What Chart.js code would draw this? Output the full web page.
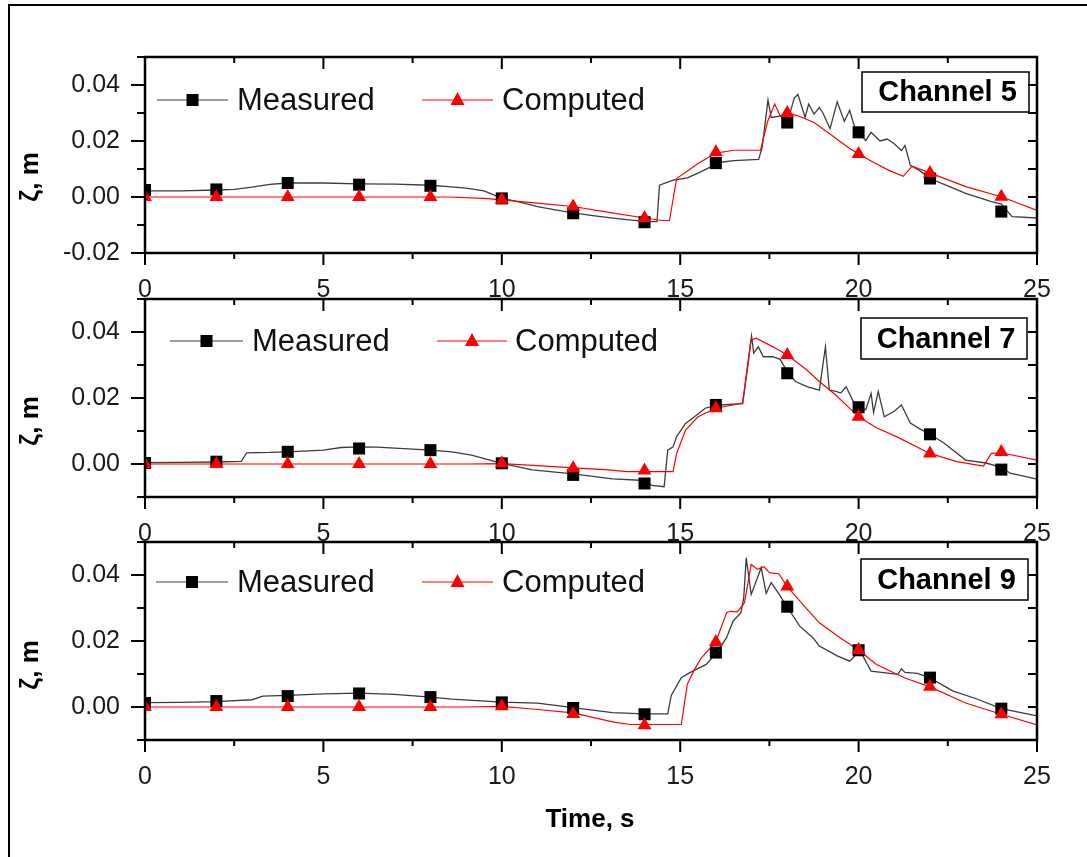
<!DOCTYPE html>
<html>
<head>
<meta charset="utf-8">
<script src="https://cdn.jsdelivr.net/npm/chart.js@4"></script>
<style>
  body { margin: 0; background: #fff; }
  #wrap { position: relative; width: 1087px; height: 857px; overflow: hidden; background: #fff; }
  #frame { position: absolute; left: 8px; top: 4px; width: 1300px; height: 1000px; border-left: 2px solid #000; border-top: 2px solid #000; }
  canvas { position: absolute; left: 0; top: 0; }
</style>
</head>
<body>
<div id="wrap">
  <div id="frame"></div>
  <canvas id="c5" width="1087" height="857"></canvas>
  <canvas id="c7" width="1087" height="857"></canvas>
  <canvas id="c9" width="1087" height="857"></canvas>
</div>
<script>
// marker times (s), same for every series
const markTimes = [0, 2, 4, 6, 8, 10, 12, 14, 16, 18, 20, 22, 24];

// Channel 5 -- [time s, elevation m]
const ch5Measured = [
  [0, 0.0022], [1, 0.0022], [2, 0.0025], [2.5, 0.0027], [3, 0.0035], [3.5, 0.0045], [4, 0.005],
  [5, 0.005], [6, 0.0047], [7, 0.0046], [8, 0.0042], [8.5, 0.0037], [9, 0.0032], [9.5, 0.0022],
  [10, -0.0004], [10.5, -0.0018], [11, -0.0034], [11.5, -0.0046], [12, -0.0057], [12.5, -0.0066],
  [13, -0.0074], [13.5, -0.0081], [14, -0.0087], [14.35, -0.0088], [14.42, 0.0042], [14.8, 0.006],
  [15.2, 0.0068], [15.5, 0.0085], [15.9, 0.011], [16.2, 0.0125], [16.5, 0.013], [17.2, 0.0134],
  [17.3, 0.018], [17.46, 0.0346], [17.55, 0.0284], [17.85, 0.029], [18.05, 0.0288], [18.2, 0.0354],
  [18.3, 0.0366], [18.5, 0.0284], [18.6, 0.0332], [18.75, 0.0296], [18.9, 0.032], [19.0, 0.030],
  [19.2, 0.0244], [19.4, 0.034], [19.6, 0.027], [19.75, 0.031], [19.9, 0.0245], [20.05, 0.0225],
  [20.2, 0.0201], [20.35, 0.0231], [20.6, 0.020], [20.8, 0.0207], [21.0, 0.019], [21.2, 0.0166],
  [21.3, 0.0184], [21.45, 0.0113], [21.7, 0.0095], [22.0, 0.0066], [22.5, 0.004], [23.0, 0.0013],
  [23.7, -0.0016], [24.0, -0.0025], [24.3, -0.007], [25, -0.0075]
];
const ch5Computed = [
  [0, 0], [8.5, 0], [9.5, -0.0005], [10, -0.001], [11, -0.0022], [12, -0.0034], [13, -0.0055],
  [14, -0.0075], [14.5, -0.0084], [14.7, -0.0084], [14.9, 0.0066], [15.5, 0.012], [16, 0.0157],
  [16.5, 0.0167], [17.25, 0.0167], [17.45, 0.027], [17.65, 0.0332], [17.8, 0.029], [18, 0.030],
  [18.3, 0.029], [18.75, 0.0266], [19.2, 0.0225], [19.7, 0.0178], [20, 0.0154], [20.4, 0.0125],
  [20.85, 0.0095], [21.25, 0.0074], [21.5, 0.011], [22, 0.0086], [23, 0.0037], [24, 0.0001], [25, -0.0048]
];
const ch5MeasuredMarks = [0.0025, 0.0027, 0.005, 0.0044, 0.004, -0.0005, -0.0058, -0.009, 0.0121, 0.0266, 0.0231, 0.0066, -0.0052];
const ch5ComputedMarks = [0, 0, 0, 0, 0, -0.001, -0.0034, -0.0075, 0.016, 0.030, 0.0154, 0.0086, 0.0001];

// Channel 7
const ch7Measured = [
  [0, 0.0004], [1, 0.0005], [2, 0.0006], [2.7, 0.0008], [2.85, 0.0034], [3.5, 0.0035], [4, 0.0037],
  [5, 0.0042], [5.5, 0.005], [6, 0.0052], [6.5, 0.0051], [7, 0.0048], [8, 0.0042], [8.6, 0.0037],
  [9.15, 0.0027], [10, 0.0002], [10.85, -0.0018], [12, -0.003], [13.1, -0.0045], [14, -0.005],
  [14.2, -0.0065], [14.55, -0.0069], [14.65, 0.0042], [14.8, 0.0052], [14.9, 0.0083], [15.15, 0.0123],
  [15.4, 0.0143], [15.7, 0.0169], [16, 0.0178], [16.75, 0.0183], [16.9, 0.030], [17.0, 0.0388],
  [17.06, 0.0336], [17.19, 0.0355], [17.33, 0.0325], [17.6, 0.0325], [17.8, 0.0317], [18.0, 0.028],
  [18.23, 0.025], [18.57, 0.0234], [18.9, 0.0224], [19.07, 0.0355], [19.18, 0.0224], [19.37, 0.022],
  [19.5, 0.0215], [19.65, 0.0234], [19.85, 0.019], [20.0, 0.0175], [20.2, 0.0164], [20.35, 0.0214],
  [20.42, 0.0156], [20.55, 0.022], [20.72, 0.0143], [21.0, 0.016], [21.2, 0.0179], [21.45, 0.0124],
  [21.74, 0.0105], [22, 0.009], [22.4, 0.0063], [23.0, 0.0012], [23.57, 0.0003], [24.0, -0.001],
  [24.25, -0.0028], [25, -0.0046]
];
const ch7Computed = [
  [0, 0], [9, 0], [10, 0.0001], [11, -0.0005], [12, -0.0012], [13, -0.0018], [13.5, -0.0023],
  [14.8, -0.0023], [14.9, 0.0032], [15.15, 0.0103], [15.5, 0.0143], [16, 0.0169], [16.3, 0.0175],
  [16.75, 0.0185], [16.98, 0.0376], [17.13, 0.0381], [17.6, 0.0355], [18, 0.033], [18.55, 0.0285],
  [18.9, 0.025], [19.35, 0.021], [20, 0.0143], [20.5, 0.011], [21.06, 0.0083], [22, 0.0032],
  [22.75, 0.0007], [23.5, -0.0006], [23.72, 0.0032], [24, 0.0034], [25, 0.0012]
];
const ch7MeasuredMarks = [0.0003, 0.0007, 0.0037, 0.0047, 0.0042, 0.0002, -0.0033, -0.0059, 0.0179, 0.0275, 0.0172, 0.009, -0.0017];
const ch7ComputedMarks = [0, 0, 0, 0, 0, 0.0002, -0.0013, -0.002, 0.0169, 0.033, 0.0143, 0.0032, 0.0036];

// Channel 9
const ch9Measured = [
  [0, 0.0013], [1, 0.0014], [2, 0.0016], [3, 0.0022], [3.3, 0.0033], [4, 0.0035], [5, 0.004],
  [6, 0.0042], [7, 0.0038], [8, 0.003], [8.6, 0.0024], [10, 0.0015], [11, 0.0012], [12, -0.0002],
  [13.1, -0.0017], [14, -0.0021], [14.65, -0.0021], [14.75, 0.0035], [15.03, 0.0089], [15.27, 0.0104],
  [15.73, 0.0129], [16, 0.0162], [16.3, 0.021], [16.48, 0.026], [16.7, 0.0286], [16.78, 0.033],
  [16.85, 0.0452], [16.99, 0.0341], [17.27, 0.0422], [17.41, 0.0344], [17.55, 0.0377], [17.77, 0.0342],
  [18, 0.0303], [18.35, 0.0245], [18.72, 0.021], [18.9, 0.0185], [19.4, 0.0155], [19.75, 0.0139],
  [19.9, 0.0155], [20.05, 0.0168], [20.35, 0.0109], [20.7, 0.0104], [21.1, 0.0099], [21.2, 0.0116],
  [21.3, 0.0105], [21.65, 0.0102], [22, 0.0088], [22.65, 0.0048], [23.3, 0.0025], [24, -0.0005],
  [25, -0.0027]
];
const ch9Computed = [
  [0, 0], [9, 0], [10, 0.0002], [10.85, -0.0006], [12, -0.0018], [13.1, -0.0045], [13.6, -0.0053],
  [15.03, -0.0053], [15.2, 0.0069], [15.4, 0.0114], [15.6, 0.015], [16, 0.0197], [16.3, 0.0286],
  [16.4, 0.029], [16.6, 0.0288], [16.8, 0.0315], [16.99, 0.0432], [17.17, 0.0417], [17.35, 0.0425],
  [17.5, 0.0407], [17.77, 0.0403], [18, 0.0365], [18.56, 0.0296], [18.9, 0.0255], [19.48, 0.021],
  [20, 0.0173], [20.5, 0.0129], [21.3, 0.0088], [22, 0.0061], [23, 0.0012], [24, -0.0022], [25, -0.0054]
];
const ch9MeasuredMarks = [0.0012, 0.0018, 0.0033, 0.0041, 0.003, 0.0014, -0.0003, -0.0022, 0.0165, 0.0304, 0.0172, 0.0089, -0.0005];
const ch9ComputedMarks = [0, 0, 0, 0, 0, 0.0002, -0.0021, -0.0055, 0.0197, 0.0365, 0.0173, 0.0061, -0.0022];

const seriesNames = ['Measured', 'Computed'];
const yAxisTitle = 'ζ, m';
const xAxisTitle = 'Time, s';

const FONT = "'Liberation Sans', Arial, sans-serif";
const BLACK_LINE = '#3c3c3c';
const RED = '#ff0000';

// layout of each panel (pixels)
const panels = [
  { id: 'c5', label: 'Channel 5', yMin: -0.02, top: 57, bottom: 253,
    meas: ch5Measured, comp: ch5Computed, measMk: ch5MeasuredMarks, compMk: ch5ComputedMarks,
    legY: 100, measLeg: [157, 228, 237], compLeg: [422, 493, 502], box: [862, 72, 167, 40], titleY: 177 },
  { id: 'c7', label: 'Channel 7', yMin: -0.01, top: 299, bottom: 497,
    meas: ch7Measured, comp: ch7Computed, measMk: ch7MeasuredMarks, compMk: ch7ComputedMarks,
    legY: 341, measLeg: [170, 243, 252], compLeg: [437, 507, 515], box: [861, 318, 166, 41], titleY: 421 },
  { id: 'c9', label: 'Channel 9', yMin: -0.01, top: 542, bottom: 740,
    meas: ch9Measured, comp: ch9Computed, measMk: ch9MeasuredMarks, compMk: ch9ComputedMarks,
    legY: 582, measLeg: [156, 228, 237], compLeg: [422, 493, 502], box: [861, 559, 167, 41], titleY: 665, xTitle: true }
];

const toXY = pairs => pairs.map(p => ({ x: p[0], y: p[1] }));
const marks = vals => vals.map((v, i) => ({ x: markTimes[i], y: v }));

function drawSquare(ctx, x, y) {
  ctx.fillStyle = '#000';
  ctx.fillRect(x - 6, y - 6, 12, 12);
}
function drawTriangle(ctx, x, y) {
  ctx.fillStyle = RED;
  ctx.beginPath();
  ctx.moveTo(x, y - 8);
  ctx.lineTo(x + 7, y + 5);
  ctx.lineTo(x - 7, y + 5);
  ctx.closePath();
  ctx.fill();
}

function makeDecor(p) {
  return {
    id: 'decor',
    afterDraw(chart) {
      const { ctx, chartArea: a, scales: { x, y } } = chart;
      ctx.save();
      ctx.strokeStyle = '#000';
      // frame
      ctx.lineWidth = 2.5;
      ctx.strokeRect(a.left, a.top, a.right - a.left, a.bottom - a.top);
      // ticks
      ctx.lineWidth = 2;
      ctx.beginPath();
      x.ticks.forEach(t => {
        const px = x.getPixelForValue(t.value);
        const len = Math.abs(t.value % 5) < 1e-6 ? 12 : 6;
        ctx.moveTo(px, a.bottom); ctx.lineTo(px, a.bottom + len);
        ctx.moveTo(px, a.top); ctx.lineTo(px, a.top + len);
      });
      y.ticks.forEach(t => {
        const py = y.getPixelForValue(t.value);
        const major = Math.round(t.value * 100) % 2 === 0;
        ctx.moveTo(a.left - (major ? 14 : 8), py); ctx.lineTo(a.left, py);
        ctx.moveTo(a.right - 9, py); ctx.lineTo(a.right, py);
      });
      ctx.stroke();

      // legend
      ctx.lineWidth = 1.2;
      ctx.font = '31px ' + FONT;
      ctx.textBaseline = 'middle';
      ctx.textAlign = 'left';
      [[p.measLeg, BLACK_LINE, drawSquare, seriesNames[0]], [p.compLeg, RED, drawTriangle, seriesNames[1]]].forEach(([lg, col, mk, name]) => {
        ctx.strokeStyle = col;
        ctx.beginPath();
        ctx.moveTo(lg[0], p.legY); ctx.lineTo(lg[1], p.legY);
        ctx.stroke();
        mk(ctx, (lg[0] + lg[1]) / 2, p.legY);
        ctx.fillStyle = '#111';
        ctx.fillText(name, lg[2], p.legY + 1);
      });

      // channel box
      const [bx, by, bw, bh] = p.box;
      ctx.strokeStyle = '#000';
      ctx.lineWidth = 1.5;
      ctx.strokeRect(bx, by, bw, bh);
      ctx.font = 'bold 29px ' + FONT;
      ctx.textAlign = 'center';
      ctx.fillStyle = '#000';
      ctx.fillText(p.label, bx + bw / 2 + 2, by + bh / 2 + 1);

      // axis titles
      ctx.font = 'bold 26px ' + FONT;
      ctx.save();
      ctx.translate(31, p.titleY);
      ctx.rotate(-Math.PI / 2);
      ctx.fillText(yAxisTitle, 0, 0);
      ctx.restore();
      if (p.xTitle) {
        ctx.fillText(xAxisTitle, 590, 820);
      }
      ctx.restore();
    }
  };
}

panels.forEach(p => {
  new Chart(document.getElementById(p.id), {
    type: 'line',
    data: {
      datasets: [
        { data: marks(p.compMk), showLine: false, pointStyle: 'triangle', pointRadius: 8,
          pointBackgroundColor: RED, pointBorderWidth: 0 },
        { data: marks(p.measMk), showLine: false, pointStyle: 'rect', pointRadius: 8.5,
          pointBackgroundColor: '#000', pointBorderWidth: 0 },
        { data: toXY(p.comp), borderColor: RED, borderWidth: 1.2, pointRadius: 0, tension: 0 },
        { data: toXY(p.meas), borderColor: BLACK_LINE, borderWidth: 1.3, pointRadius: 0, tension: 0 }
      ]
    },
    options: {
      responsive: false,
      animation: false,
      layout: { padding: { left: 0, right: 50, top: p.top, bottom: 857 - p.bottom - 45 } },
      plugins: { legend: { display: false }, tooltip: { enabled: false } },
      scales: {
        x: {
          type: 'linear', min: 0, max: 25,
          afterFit: s => { s.height = 45; s.paddingLeft = 0; s.paddingRight = 0; },
          grid: { display: false, drawTicks: false }, border: { display: false },
          ticks: { stepSize: 2.5, autoSkip: false, maxRotation: 0, padding: 22, color: '#1a1a1a',
            font: { family: FONT, size: 25 },
            callback: v => (Math.abs(v % 5) < 1e-6 ? String(v) : '') }
        },
        y: {
          type: 'linear', min: p.yMin, max: 0.05,
          afterFit: s => { s.width = 145; s.paddingTop = 0; s.paddingBottom = 0; },
          grid: { display: false, drawTicks: false }, border: { display: false },
          ticks: { stepSize: 0.01, autoSkip: false, padding: 25, color: '#1a1a1a',
            font: { family: FONT, size: 25 },
            callback: v => { const k = Math.round(v * 100); return k % 2 === 0 ? (k / 100).toFixed(2) : ''; } }
        }
      }
    },
    plugins: [makeDecor(p)]
  });
});
</script>
</body>
</html>
